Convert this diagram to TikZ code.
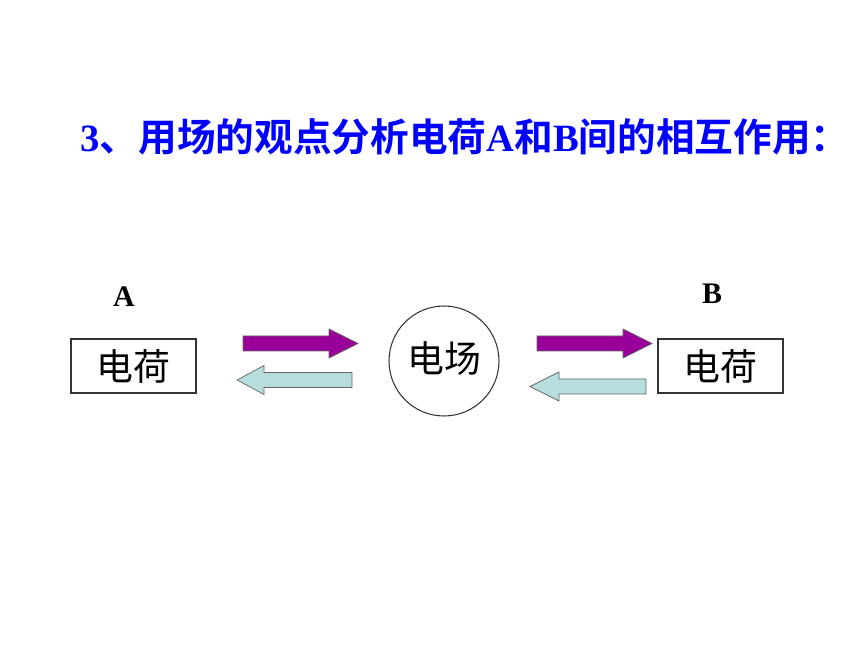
\documentclass[tikz,border=0pt]{standalone}
\usepackage{fontspec}
\setmainfont{Liberation Serif}
\newfontfamily\cjk{Noto Sans CJK SC}[BoldFont=* Bold]
\definecolor{fieldpurple}{RGB}{153,0,153}
\definecolor{backcyan}{RGB}{182,222,222}
\definecolor{titleblue}{RGB}{0,0,255}

% block arrow: fill, tail x, head base x, tip x, mid y
\newcommand{\blockarrow}[5]{%
  \draw[arrowline, fill=#1] (#2,#5-7.5) -- (#3,#5-7.5) -- (#3,#5-14.5) -- (#4,#5)
    -- (#3,#5+14.5) -- (#3,#5+7.5) -- (#2,#5+7.5) -- cycle;}

\begin{document}
\begin{tikzpicture}[
		x=0.02cm, y=-0.02cm,
		every node/.style={inner sep=0pt},
		charge/.style={rectangle, draw=black!80, line width=0.6pt, minimum width=2.5cm, minimum height=1.08cm, font=\cjk\fontsize{21}{25}\selectfont},
		field/.style={circle, draw=black!80, line width=0.6pt, minimum size=2.2cm, font=\cjk\fontsize{21}{25}\selectfont},
		tag/.style={font=\fontsize{17}{20}\selectfont\bfseries},
		arrowline/.style={draw=black!60, line width=0.4pt}
	]
  \useasboundingbox (0,0) rectangle (860,645);
  \node (title) [text=titleblue, font=\fontsize{22}{26}\selectfont\bfseries] at (465, 137)
    {3{\cjk 、用场的观点分析电荷}A{\cjk 和}B{\cjk 间的相互作用：}};
  \node (label_A) [tag] at (124, 297) {A};
  \node (label_B) [tag] at (712, 294) {B};
  \node (q_A) [charge] at (133.5, 366) {电荷};
  \node (q_B) [charge] at (720.5, 366) {电荷};
  \node (E) [field] at (444, 361) {\raisebox{4pt}{电场}};
  \blockarrow{fieldpurple}{243}{329}{358}{343.5}
  \blockarrow{backcyan}{352}{264}{237}{380}
  \blockarrow{fieldpurple}{537}{623}{652}{343.5}
  \blockarrow{backcyan}{646}{559}{530}{386.5}
\end{tikzpicture}
\end{document}
